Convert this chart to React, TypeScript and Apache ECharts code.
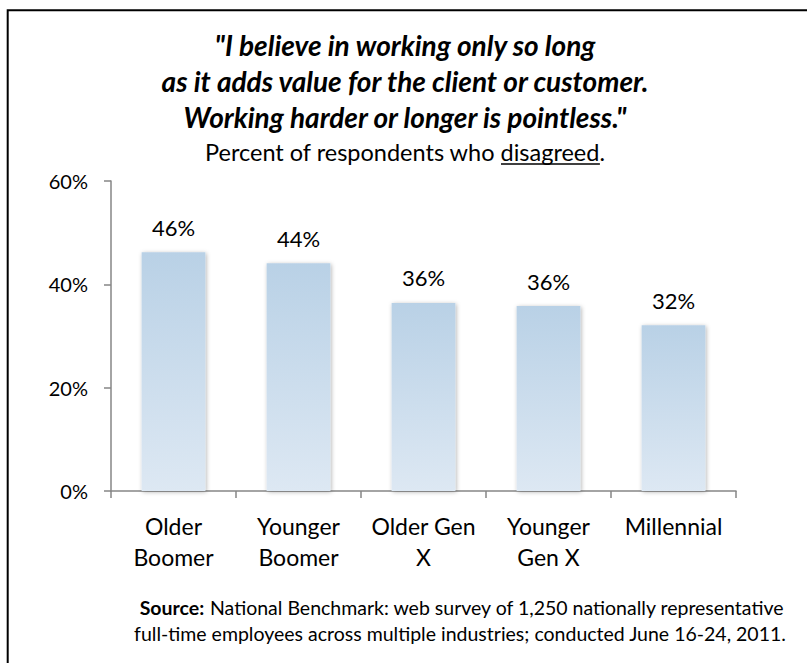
import React, { useEffect, useRef } from "react";
import * as echarts from "echarts";

const categories = ["Older\nBoomer", "Younger\nBoomer", "Older Gen\nX", "Younger\nGen X", "Millennial"];
const values = [46.2, 44.1, 36.4, 35.8, 32.1];
const yMin = 0;
const yMax = 60;
const yInterval = 20;
const titleLines = [
  '"I believe in working only so long',
  "as it adds value for the client or customer.",
  'Working harder or longer is pointless."',
];
const subtitlePre = "Percent of respondents who ";
const subtitleEm = "disagreed";
const subtitlePost = ".";
const sourceLabel = "Source:";
const sourceLine1 = " National Benchmark: web survey of 1,250 nationally representative";
const sourceLine2 = "full-time employees across multiple industries; conducted June 16-24, 2011.";

const FONT = "Lato, 'Open Sans', sans-serif";

function measure(text: string, font: string): number {
  const c = document.createElement("canvas");
  const ctx = c.getContext("2d");
  if (!ctx) return text.length * 10;
  ctx.font = font;
  return ctx.measureText(text).width;
}

export default function App() {
  const ref = useRef<HTMLDivElement>(null);
  useEffect(() => {
    if (!ref.current) return;
    const chart = echarts.init(ref.current, undefined, { renderer: "svg" });

    const titleSize = 28;
    const subSize = 23.5;
    const cx = 405;
    const subFont = `normal ${subSize}px Lato`;
    const wPre = measure(subtitlePre, subFont);
    const wEm = measure(subtitleEm, subFont);
    const wPost = measure(subtitlePost, subFont);
    const x0 = cx - (wPre + wEm + wPost) / 2;
    const subY = 152;

    const titleYs = [45, 81, 117];

    const graphics: any[] = [
      {
        type: "rect",
        shape: { x: 7.7, y: 10.3, width: 840, height: 720 },
        style: { fill: "none", stroke: "#000", lineWidth: 2 },
        silent: true,
      },
      ...titleLines.map((t, i) => ({
        type: "text",
        x: cx,
        y: titleYs[i],
        style: {
          text: t,
          fontFamily: FONT,
          fontSize: titleSize,
          fontWeight: "bold",
          fontStyle: "italic",
          fill: "#000",
          align: "center",
          verticalAlign: "middle",
        },
      })),
      {
        type: "text",
        x: cx,
        y: subY,
        style: {
          text: subtitlePre + subtitleEm + subtitlePost,
          fontFamily: FONT,
          fontSize: subSize,
          fill: "#000",
          align: "center",
          verticalAlign: "middle",
        },
      },
      {
        type: "line",
        shape: { x1: x0 + wPre, y1: subY + 12, x2: x0 + wPre + wEm, y2: subY + 12 },
        style: { stroke: "#000", lineWidth: 1.5 },
      },
      {
        type: "text",
        x: 462,
        y: 607,
        style: {
          text: `{b|${sourceLabel}}{n|${sourceLine1}}`,
          align: "center",
          verticalAlign: "middle",
          rich: {
            b: { fontFamily: FONT, fontSize: 19.5, fontWeight: "bold", fill: "#000", color: "#000" },
            n: { fontFamily: FONT, fontSize: 19.5, fill: "#000", color: "#000" },
          },
        },
      },
      {
        type: "text",
        x: 460,
        y: 633,
        style: {
          text: sourceLine2,
          fontFamily: FONT,
          fontSize: 19.5,
          fill: "#000",
          align: "center",
          verticalAlign: "middle",
        },
      },
    ];

    chart.setOption({
      animation: false,
      backgroundColor: "#fff",
      grid: { left: 111, right: 71, top: 181, bottom: 172, containLabel: false },
      xAxis: {
        type: "category",
        data: categories,
        axisLine: { lineStyle: { color: "#868686", width: 1.5 } },
        axisTick: { show: true, length: 7, lineStyle: { color: "#868686", width: 1.5 } },
        axisLabel: {
          fontFamily: FONT,
          fontSize: 23,
          color: "#000",
          margin: 19,
          lineHeight: 31,
          interval: 0,
        },
      },
      yAxis: {
        type: "value",
        min: yMin,
        max: yMax,
        interval: yInterval,
        splitLine: { show: false },
        axisLine: { show: true, lineStyle: { color: "#868686", width: 1.5 } },
        axisTick: { show: true, length: 7, lineStyle: { color: "#868686", width: 1.5 } },
        axisLabel: {
          fontFamily: FONT,
          fontSize: 20,
          color: "#000",
          margin: 23,
          formatter: "{value}%",
        },
      },
      series: [
        {
          type: "bar",
          data: values,
          barWidth: "51%",
          itemStyle: {
            color: new echarts.graphic.LinearGradient(0, 0, 0, 1, [
              { offset: 0, color: "#b9d1e6" },
              { offset: 1, color: "#dde8f3" },
            ]),
            shadowColor: "rgba(0,0,0,0.3)",
            shadowBlur: 4,
            shadowOffsetX: 1,
            shadowOffsetY: 1,
          },
          label: {
            show: true,
            position: "top",
            distance: 14,
            fontFamily: FONT,
            fontSize: 22,
            color: "#000",
            formatter: (p: any) => Math.round(p.value) + "%",
          },
        },
      ],
      graphic: graphics,
    });

    return () => chart.dispose();
  }, []);

  return (
    <div
      ref={ref}
      style={{ position: "absolute", left: 0, top: 0, width: 807, height: 663, background: "#fff" }}
    />
  );
}
